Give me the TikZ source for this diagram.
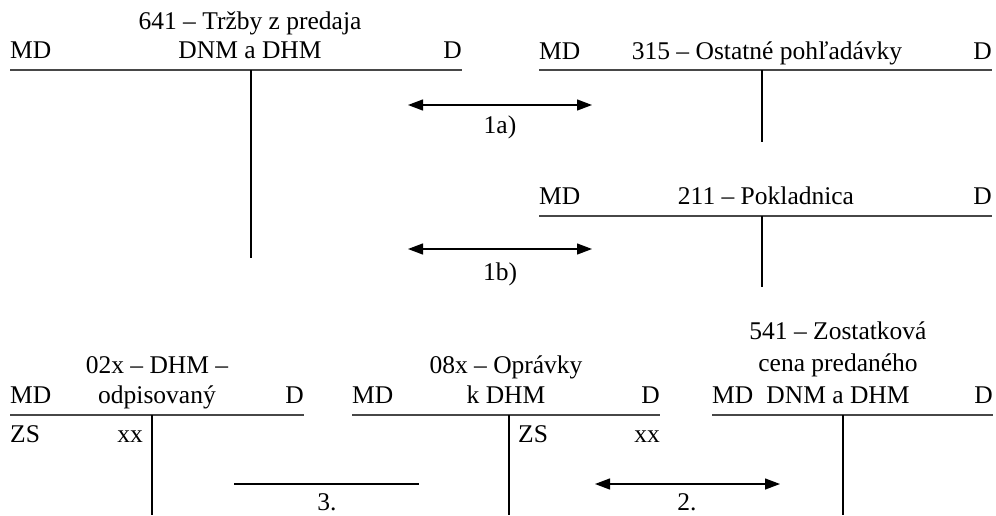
\documentclass[tikz,border=0pt]{standalone}
\usepackage{fontspec}
\setmainfont{Liberation Serif}
\usetikzlibrary{arrows.meta}
\begin{document}
\begin{tikzpicture}[x=1pt,y=-1pt,
  font=\fontsize{25.5}{30}\selectfont,
  head/.style={line width=1.5pt, draw=black!72},
  stem/.style={line width=1.1pt},
  lbl/.style={inner sep=0pt, anchor=base},
  lblw/.style={inner sep=0pt, anchor=base west},
  lble/.style={inner sep=0pt, anchor=base east},
  twoway/.style={line width=1.3pt, {Triangle[length=15pt,width=11pt]}-{Triangle[length=15pt,width=11pt]}},
  plain/.style={line width=1.3pt}]
\useasboundingbox (0,0) rectangle (996,515);

% --- 641 Trzby z predaja DNM a DHM ---
\node[lbl] (t641a) at (250,29) {641 – Tržby z predaja};
\node[lbl] (t641b) at (250,58) {DNM a DHM};
\node[lblw] (md641) at (10,58) {MD};
\node[lble] (d641) at (462,58) {D};
\coordinate (h641l) at (10,70);
\coordinate (h641r) at (462,70);
\coordinate (v641t) at (251,70);
\coordinate (v641b) at (251,258);
\draw[head] (h641l) -- (h641r);
\draw[stem] (v641t) -- (v641b);

% --- 315 Ostatne pohladavky ---
\node[lbl] (t315) at (767,59) {315 – Ostatné pohľadávky};
\node[lblw] (md315) at (539,59) {MD};
\node[lble] (d315) at (992,59) {D};
\coordinate (h315l) at (539,70);
\coordinate (h315r) at (992,70);
\coordinate (v315t) at (762,70);
\coordinate (v315b) at (762,142);
\draw[head] (h315l) -- (h315r);
\draw[stem] (v315t) -- (v315b);

% --- 211 Pokladnica ---
\node[lbl] (t211) at (766,204) {211 – Pokladnica};
\node[lblw] (md211) at (539,204) {MD};
\node[lble] (d211) at (992,204) {D};
\coordinate (h211l) at (539,216);
\coordinate (h211r) at (992,216);
\coordinate (v211t) at (762,216);
\coordinate (v211b) at (762,287);
\draw[head] (h211l) -- (h211r);
\draw[stem] (v211t) -- (v211b);

% --- operations 1a) and 1b) ---
\coordinate (o1al) at (408,105);
\coordinate (o1ar) at (592,105);
\draw[twoway] (o1al) -- (o1ar);
\node[lbl] (l1a) at (500,133) {1a)};
\coordinate (o1bl) at (408,249);
\coordinate (o1br) at (592,249);
\draw[twoway] (o1bl) -- (o1br);
\node[lbl] (l1b) at (500,280) {1b)};

% --- 02x DHM odpisovany ---
\node[lbl] (t02a) at (157,373) {02x – DHM –};
\node[lbl] (t02b) at (157,403) {odpisovaný};
\node[lblw] (md02) at (10,403) {MD};
\node[lble] (d02) at (304,403) {D};
\node[lblw] (zs02) at (10,442) {ZS};
\node[lble] (xx02) at (143,442) {xx};
\coordinate (h02l) at (10,415);
\coordinate (h02r) at (304,415);
\coordinate (v02t) at (152,415);
\coordinate (v02b) at (152,515);
\draw[head] (h02l) -- (h02r);
\draw[stem] (v02t) -- (v02b);

% --- 08x Opravky k DHM ---
\node[lbl] (t08a) at (506,373) {08x – Oprávky};
\node[lbl] (t08b) at (506,403) {k DHM};
\node[lblw] (md08) at (352,403) {MD};
\node[lble] (d08) at (660,403) {D};
\node[lblw] (zs08) at (518,442) {ZS};
\node[lble] (xx08) at (660,442) {xx};
\coordinate (h08l) at (352,415);
\coordinate (h08r) at (660,415);
\coordinate (v08t) at (509,415);
\coordinate (v08b) at (509,515);
\draw[head] (h08l) -- (h08r);
\draw[stem] (v08t) -- (v08b);

% --- 541 Zostatkova cena predaneho DNM a DHM ---
\node[lbl] (t541a) at (838,339) {541 – Zostatková};
\node[lbl] (t541b) at (838,371) {cena predaného};
\node[lbl] (t541c) at (838,403) {DNM a DHM};
\node[lblw] (md541) at (712,403) {MD};
\node[lble] (d541) at (993,403) {D};
\coordinate (h541l) at (712,415);
\coordinate (h541r) at (993,415);
\coordinate (v541t) at (843,415);
\coordinate (v541b) at (843,515);
\draw[head] (h541l) -- (h541r);
\draw[stem] (v541t) -- (v541b);

% --- operations 2. and 3. ---
\coordinate (o3l) at (234,484);
\coordinate (o3r) at (419,484);
\draw[plain] (o3l) -- (o3r);
\node[lbl] (l3) at (327,510) {3.};
\coordinate (o2l) at (595,484);
\coordinate (o2r) at (780,484);
\draw[twoway] (o2l) -- (o2r);
\node[lbl] (l2) at (687,510) {2.};
\end{tikzpicture}
\end{document}
